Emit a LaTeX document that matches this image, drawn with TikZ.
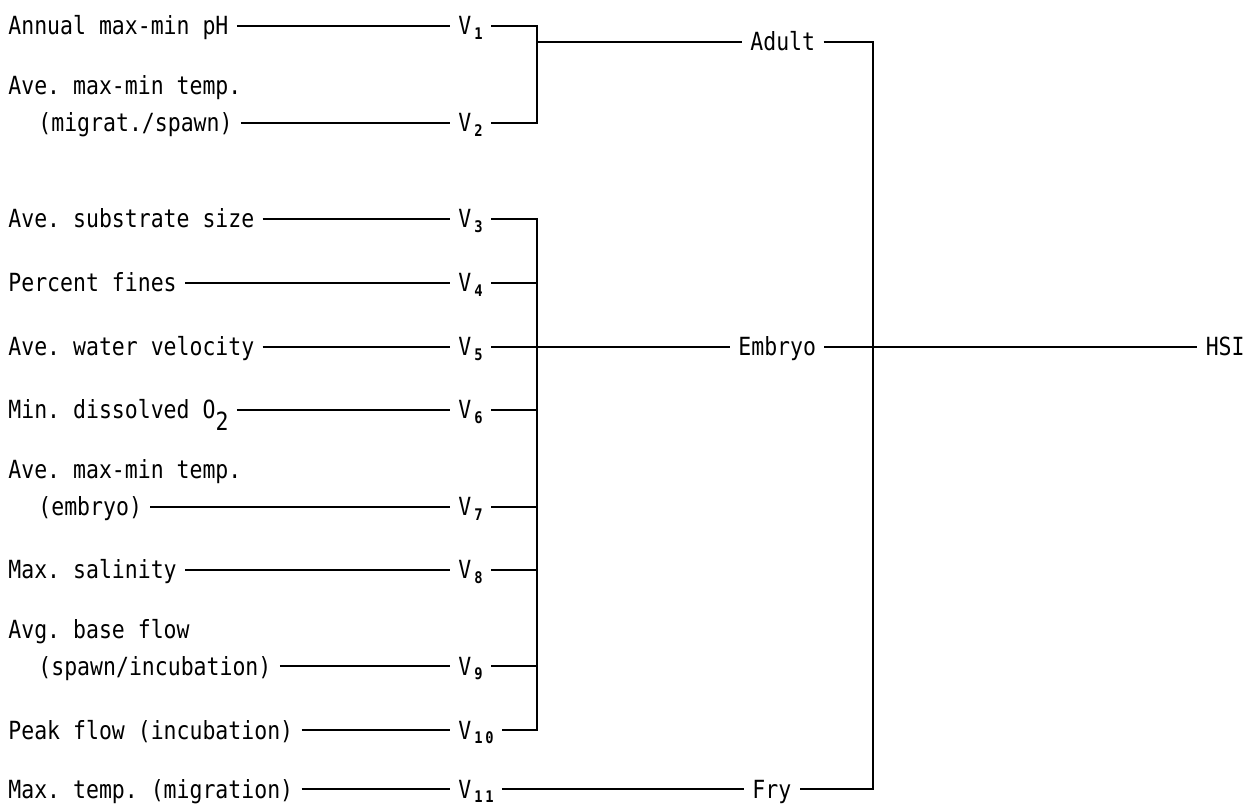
\documentclass[tikz,border=0pt]{standalone}
\usepackage{fontspec}
\setmonofont[FakeStretch=0.86]{DejaVu Sans Mono}
\usetikzlibrary{positioning}
\newcommand{\vsub}[1]{\kern1.5pt\raisebox{-0.35ex}{\fontsize{8}{8}\selectfont\bfseries #1}}
\tikzstyle{every node}=[font=\ttfamily\fontsize{12.5}{14}\selectfont, inner sep=4pt, text height=9pt, text depth=0pt]
\tikzset{
    factor/.style={
                anchor=west
            },
        vlabel/.style={
                anchor=west
            },
        stage/.style={
                anchor=west
            },
        wire/.style={
                line width=1pt
            },
}

\begin{document}
\begin{tikzpicture}[x=0.5pt,y=-0.5pt]
  \useasboundingbox (0,0) rectangle (1247,806);
  % Habitat variables
  \node[factor] (f1) at (0,26) {Annual max-min pH};
  \node[factor] (f2t) at (0,86) {Ave. max-min temp.};
  \node[factor] (f2) at (0,123) {\hspace*{1.2em}(migrat./spawn)};
  \node[factor] (f3) at (0,219) {Ave. substrate size};
  \node[factor] (f4) at (0,283) {Percent fines};
  \node[factor] (f5) at (0,347) {Ave. water velocity};
  \node[factor] (f6) at (0,410) {Min. dissolved O\raisebox{-0.85ex}{2}};
  \node[factor] (f7t) at (0,470) {Ave. max-min temp.};
  \node[factor] (f7) at (0,507) {\hspace*{1.2em}(embryo)};
  \node[factor] (f8) at (0,570) {Max. salinity};
  \node[factor] (f9t) at (0,630) {Avg. base flow};
  \node[factor] (f9) at (0,666) {\hspace*{1.2em}(spawn/incubation)};
  \node[factor] (f10) at (0,730) {Peak flow (incubation)};
  \node[factor] (f11) at (0,789) {Max. temp. (migration)};
  % Variables
  \node[vlabel] (v1) at (450,26) {V\vsub{1}};
  \node[vlabel] (v2) at (450,123) {V\vsub{2}};
  \node[vlabel] (v3) at (450,219) {V\vsub{3}};
  \node[vlabel] (v4) at (450,283) {V\vsub{4}};
  \node[vlabel] (v5) at (450,347) {V\vsub{5}};
  \node[vlabel] (v6) at (450,410) {V\vsub{6}};
  \node[vlabel] (v7) at (450,507) {V\vsub{7}};
  \node[vlabel] (v8) at (450,570) {V\vsub{8}};
  \node[vlabel] (v9) at (450,666) {V\vsub{9}};
  \node[vlabel] (v10) at (450,730) {V\vsub{1\,0}};
  \node[vlabel] (v11) at (450,789) {V\vsub{1\,1}};
  % Life stages
  \node[stage] (adult) at (742,42) {Adult};
  \node[stage] (embryo) at (730,347) {Embryo};
  \node[stage] (fry) at (744,789) {Fry};
  \node[stage,anchor=east] (hsi) at (1253,347) {HSI};
  % Bracket positions
  \coordinate (bv) at (537,0);
  \coordinate (bs) at (873,0);
  % Variables to factors
  \draw[wire] (f1) -- (v1);
  \draw[wire] (f2) -- (v2);
  \draw[wire] (f3) -- (v3);
  \draw[wire] (f4) -- (v4);
  \draw[wire] (f5) -- (v5);
  \draw[wire] (f6) -- (v6);
  \draw[wire] (f7) -- (v7);
  \draw[wire] (f8) -- (v8);
  \draw[wire] (f9) -- (v9);
  \draw[wire] (f10) -- (v10);
  \draw[wire] (f11) -- (v11);
  % Adult bracket
  \draw[wire] (v1.east) -| (v2.east -| bv) -- (v2.east);
  \draw[wire] (adult.west -| bv) -- (adult.west);
  % Embryo bracket
  \draw[wire] (v3.east) -| (v10.east -| bv) -- (v10.east);
  \draw[wire] (v4.east) -- (v4.east -| bv);
  \draw[wire] (v5.east) -- (embryo.west);
  \draw[wire] (v6.east) -- (v6.east -| bv);
  \draw[wire] (v7.east) -- (v7.east -| bv);
  \draw[wire] (v8.east) -- (v8.east -| bv);
  \draw[wire] (v9.east) -- (v9.east -| bv);
  % Fry
  \draw[wire] (v11.east) -- (fry.west);
  % HSI bracket
  \draw[wire] (adult.east) -| (fry.east -| bs) -- (fry.east);
  \draw[wire] (embryo.east) -- (hsi.west);
\end{tikzpicture}
\end{document}
